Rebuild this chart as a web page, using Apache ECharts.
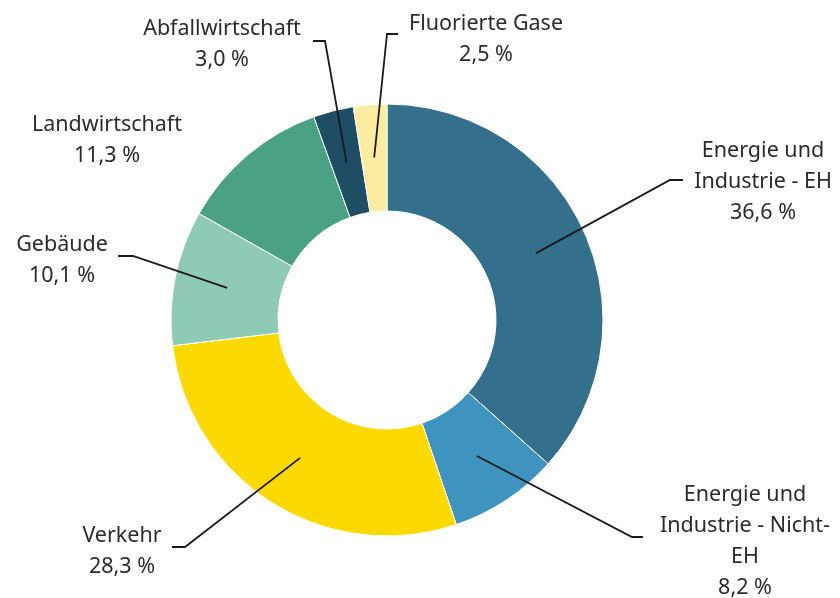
<!DOCTYPE html>
<html>
<head>
<meta charset="utf-8">
<script src="https://cdn.jsdelivr.net/npm/echarts@6/dist/echarts.min.js"></script>
<style>
html,body{margin:0;padding:0;background:#fff;}
#chart{width:840px;height:598px;}
</style>
</head>
<body>
<div id="chart"></div>
<script>
// ---- data ----
var categories = [
  'Energie und\nIndustrie - EH',
  'Energie und\nIndustrie - Nicht-\nEH',
  'Verkehr',
  'Gebäude',
  'Landwirtschaft',
  'Abfallwirtschaft',
  'Fluorierte Gase'
];
var shares = [36.6, 8.2, 28.3, 10.1, 11.3, 3.0, 2.5];

// ---- style ----
var colors = ['#346f8c', '#3e94bf', '#fcd900', '#8ecab6', '#4aa183', '#1f4d63', '#fbec9f'];
var CX = 387, CY = 320, R_IN = 109, R_OUT = 216, R_LINE = 163;
// label placement: [centerX, centerY, elbowX, elbowY, endX] (null elbow = no line)
var labelPlace = [
  [763, 182, 670, 180, 683],
  [745, 541, 632, 537, 643],
  [122, 551, 185, 547, 172],
  [62, 260, 133, 256, 118],
  [107, 140, null, null, null],
  [222, 44, 325, 41, 313],
  [486, 39, 387, 34, 398]
];

var chart = echarts.init(document.getElementById('chart'));

var ringData = categories.map(function (n, i) {
  return { name: n, value: shares[i], itemStyle: { color: colors[i] } };
});
var labelData = categories.map(function (n, i) {
  var item = { name: n, value: shares[i] };
  if (labelPlace[i][2] === null) item.labelLine = { show: false };
  return item;
});

chart.setOption({
  animation: false,
  series: [{
    type: 'pie',
    z: 2,
    center: [CX, CY],
    radius: [R_IN, R_OUT],
    startAngle: 90,
    clockwise: true,
    avoidLabelOverlap: false,
    itemStyle: { borderColor: '#ffffff', borderWidth: 1 },
    emphasis: { disabled: true },
    label: { show: false },
    labelLine: { show: false },
    data: ringData
  }, {
    type: 'pie',
    z: 10,
    silent: true,
    center: [CX, CY],
    radius: [0, R_LINE],
    startAngle: 90,
    clockwise: true,
    avoidLabelOverlap: false,
    itemStyle: { color: 'rgba(0,0,0,0)', borderWidth: 0 },
    emphasis: { disabled: true },
    data: labelData,
    label: {
      show: true,
      position: 'outside',
      fontFamily: 'Noto Sans',
      fontSize: 21.5,
      lineHeight: 31,
      color: '#2b2b2b',
      align: 'center',
      formatter: function (p) {
        return p.name + '\n' + p.value.toFixed(1).replace('.', ',') + ' %';
      }
    },
    labelLine: {
      show: true,
      length: 10,
      length2: 10,
      lineStyle: { color: '#1a1a1a', width: 1.8 }
    },
    labelLayout: function (params) {
      var lp = labelPlace[params.dataIndex];
      var res = { x: lp[0], y: lp[1], align: 'center', verticalAlign: 'middle' };
      if (lp[2] !== null && params.labelLinePoints) {
        var start = params.labelLinePoints[0];
        res.labelLinePoints = [start, [lp[2], lp[3]], [lp[4], lp[3]]];
      }
      return res;
    }
  }]
});
</script>
</body>
</html>
